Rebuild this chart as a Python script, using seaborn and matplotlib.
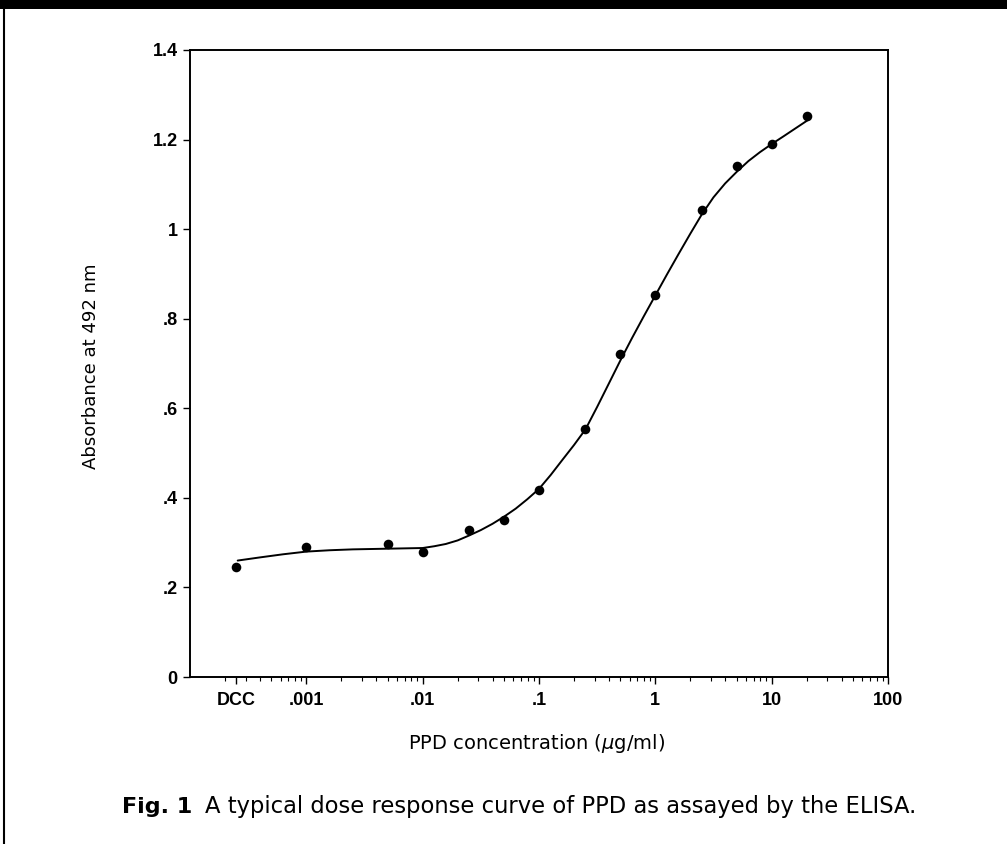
import numpy as np
import pandas as pd
import matplotlib
matplotlib.use("Agg")
import matplotlib.pyplot as plt
import seaborn as sns
from matplotlib.ticker import FixedLocator, NullFormatter, LogLocator

# ---- data ----
dose = [2.5e-4, 0.001, 0.005, 0.01, 0.025, 0.05, 0.1, 0.25, 0.5, 1.0, 2.5, 5.0, 10.0, 20.0]
absorb = [0.245, 0.290, 0.296, 0.279, 0.329, 0.350, 0.418, 0.554, 0.722, 0.854, 1.042, 1.140, 1.191, 1.252]

# fitted curve
curve_dose = [2.57e-4, 3.98e-4, 6.31e-4, 1.0e-3, 1.58e-3, 2.51e-3, 3.98e-3, 6.31e-3,
              0.01, 0.0126, 0.0158, 0.020, 0.0251, 0.0316, 0.0398, 0.0501, 0.0631, 0.0794,
              0.1, 0.126, 0.158, 0.200, 0.251, 0.316, 0.398, 0.501, 0.631, 0.794,
              1.0, 1.26, 1.58, 2.0, 2.51, 3.16, 3.98, 5.01, 6.31, 7.94,
              10.0, 12.6, 15.8, 20.9]
curve_abs = [0.260, 0.267, 0.274, 0.280, 0.283, 0.285, 0.286, 0.287,
             0.288, 0.292, 0.297, 0.305, 0.316, 0.328, 0.342, 0.358, 0.376, 0.397,
             0.420, 0.451, 0.484, 0.518, 0.553, 0.603, 0.655, 0.707, 0.757, 0.805,
             0.852, 0.899, 0.944, 0.990, 1.033, 1.071, 1.102, 1.128, 1.152, 1.172,
             1.190, 1.207, 1.224, 1.245]

xtick_vals = [2.5e-4, 0.001, 0.01, 0.1, 1, 10, 100]
xtick_labels = ["DCC", ".001", ".01", ".1", "1", "10", "100"]
ytick_vals = [0, 0.2, 0.4, 0.6, 0.8, 1.0, 1.2, 1.4]
ytick_labels = ["0", ".2", ".4", ".6", ".8", "1", "1.2", "1.4"]

sns.set_theme(style="white")
plt.rcParams["font.family"] = ["Liberation Sans", "DejaVu Sans"]

fig = plt.figure(figsize=(10.07, 8.44), dpi=100)
ax = fig.add_axes([190 / 1007, 1 - 677 / 844, 698 / 1007, 627 / 844])

pts = pd.DataFrame({"dose": dose, "abs": absorb})
crv = pd.DataFrame({"dose": curve_dose, "abs": curve_abs})

sns.lineplot(data=crv, x="dose", y="abs", ax=ax, color="black", linewidth=1.4,
             sort=True, estimator=None)
sns.scatterplot(data=pts, x="dose", y="abs", ax=ax, color="black", s=48,
                edgecolor="black", linewidth=0, zorder=5)

ax.set_xscale("log")
ax.set_xlim(1e-4, 100)
ax.set_ylim(0, 1.4)

ax.xaxis.set_major_locator(FixedLocator(xtick_vals))
ax.set_xticklabels(xtick_labels)
ax.xaxis.set_minor_locator(LogLocator(base=10, subs=np.arange(2, 10)))
ax.xaxis.set_minor_formatter(NullFormatter())
ax.yaxis.set_major_locator(FixedLocator(ytick_vals))
ax.set_yticklabels(ytick_labels)

for s in ax.spines.values():
    s.set_color("black")
    s.set_linewidth(1.4)

ax.tick_params(axis="both", which="major", direction="out", length=5, width=1,
               color="black", labelsize=13, pad=6, labelcolor="black")
ax.tick_params(axis="y", which="major", pad=4)
ax.tick_params(axis="x", which="minor", direction="out", length=3, width=0.8,
               color="black", bottom=True)
ax.tick_params(axis="x", which="major", bottom=True)
ax.tick_params(axis="y", which="major", left=True)
for lab in ax.get_xticklabels() + ax.get_yticklabels():
    lab.set_fontweight("bold")

ax.set_xlabel("PPD concentration ($\\mu$g/ml)", fontsize=14,
              family=["DejaVu Sans"], color="black")
ax.set_ylabel("Absorbance at 492 nm", fontsize=13,
              family=["DejaVu Sans"], color="black")
ax.yaxis.set_label_coords(-(190 - 100) / 698, (677 - 366) / 627)
ax.xaxis.set_label_coords((537 - 190) / 698, -(732 - 677) / 627)

# caption
fig.text(122 / 1007, 1 - 807 / 844, "Fig. 1", fontsize=16, fontweight="bold",
         va="center", ha="left", color="black", family=["DejaVu Sans"])
fig.text(205 / 1007, 1 - 807 / 844,
         "A typical dose response curve of PPD as assayed by the ELISA.",
         fontsize=16.3, va="center", ha="left", color="black", family=["DejaVu Sans"])

# page frame
fig.add_artist(plt.Rectangle((0, 1 - 9 / 844), 1, 9 / 844, transform=fig.transFigure,
                             color="black", lw=0))
fig.add_artist(plt.Line2D([4 / 1007, 4 / 1007], [0, 1], transform=fig.transFigure,
                          color="black", lw=1.5))

fig.savefig("out.png", dpi=100, facecolor="white")
